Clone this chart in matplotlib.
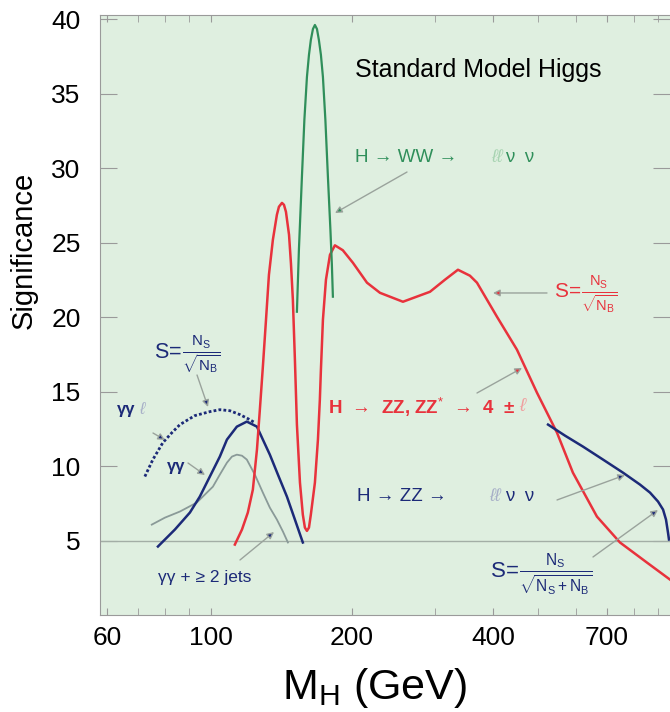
import matplotlib
matplotlib.use("Agg")
import matplotlib.pyplot as plt

plt.rcParams['font.family'] = ['Liberation Sans', 'DejaVu Sans']
plt.rcParams['mathtext.fontset'] = 'custom'
plt.rcParams['mathtext.rm'] = 'Liberation Sans'
plt.rcParams['mathtext.it'] = 'Liberation Sans:italic'
plt.rcParams['mathtext.default'] = 'rm'

# H -> ZZ, ZZ* -> 4 leptons (red)
zz4l_m = [112.5, 116.5, 119.9, 122.9, 125.4, 127.2, 129.1, 131.1, 133.0, 135.6,
          138.3, 139.7, 141.8, 143.2, 144.6, 146.8, 148.2, 149.6, 151.1, 152.6,
          154.9, 157.1, 158.7, 160.3, 161.9, 163.4, 166.7, 169.2, 170.8, 171.7,
          173.4, 176.0, 179.5, 183.9, 191.2, 200.9, 215.3, 229.5, 256.9, 293.4,
          315.8, 336.6, 357.0, 369.6, 407.8, 449.8, 496.3, 547.5, 592.1, 666.3,
          746.2, 852.0, 953.9]
zz4l_s = [4.73, 5.74, 6.88, 8.42, 11.11, 13.79, 16.68, 19.83, 22.85, 25.2,
          26.88, 27.42, 27.68, 27.55, 27.08, 25.54, 23.6, 21.17, 17.15, 12.79,
          8.89, 6.74, 5.87, 5.65, 5.87, 6.74, 8.89, 11.78, 14.46, 16.48,
          19.83, 22.52, 24.19, 24.83, 24.5, 23.66, 22.32, 21.64, 21.04, 21.71,
          22.52, 23.19, 22.79, 22.32, 20.03, 17.82, 14.93, 12.25, 9.56, 6.61,
          4.87, 3.52, 2.38]

# H -> WW -> l l nu nu (green)
ww_m = [152.6, 154.1, 156.4, 158.3, 160.3, 161.9, 163.4, 165.1, 166.7, 168.4,
        170.0, 171.7, 173.4, 175.5, 177.7, 179.9, 181.2, 182.1]
ww_s = [20.37, 24.53, 29.43, 33.26, 36.14, 37.62, 38.62, 39.36, 39.63, 39.36,
        38.62, 37.62, 36.14, 33.26, 29.43, 25.87, 23.52, 21.38]

# H -> ZZ -> l l nu nu (dark blue)
zzllvv_m = [524.0, 569.4, 622.2, 686.4, 757.3, 823.2, 864.8, 899.5, 922.0, 935.4,
            944.6, 949.2]
zzllvv_s = [12.79, 12.05, 11.31, 10.44, 9.56, 8.76, 8.22, 7.62, 7.08, 6.41,
            5.54, 5.07]

# gamma gamma l (dotted)
ggl_m = [72.3, 75.2, 79.0, 82.6, 85.9, 92.4, 99.5, 104.5, 109.8, 115.3, 119.9, 124.1]
ggl_s = [9.30, 10.44, 11.58, 12.25, 12.79, 13.39, 13.66, 13.79, 13.72, 13.46, 13.19, 12.92]

# gamma gamma
gg_m = [77.1, 83.8, 90.2, 94.7, 99.5, 104.5, 108.2, 113.6, 119.3, 125.4, 129.1,
        133.6, 139.0, 145.3, 151.1, 157.1]
gg_s = [4.60, 5.74, 6.88, 7.95, 9.30, 10.64, 11.78, 12.65, 12.99, 12.65, 11.78,
        10.77, 9.43, 7.95, 6.41, 4.87]

# gamma gamma + >= 2 jets
ggjj_m = [74.8, 79.8, 85.9, 93.3, 101.0, 104.5, 108.2, 110.9, 113.6, 116.5, 119.3,
          124.1, 129.1, 133.6, 138.3, 142.5, 146.0]
ggjj_s = [6.07, 6.54, 6.95, 7.55, 8.62, 9.43, 10.23, 10.64, 10.77, 10.70, 10.44,
          9.43, 8.22, 7.21, 6.41, 5.60, 4.87]

xticks = [60, 100, 200, 400, 700]
yticks = [5, 10, 15, 20, 25, 30, 35, 40]

red = '#e8323c'
green = '#2f8f5a'
navy = '#1c2a78'
grey = '#8a9a98'

fig = plt.figure(figsize=(6.7, 7.12), dpi=100)
ax = fig.add_axes([100 / 670, 1 - 615 / 712, 570 / 670, 600 / 712])
ax.set_facecolor('#dfefe0')

ax.axhline(5, color='#a3aea6', lw=1)
ax.plot(ggl_m, ggl_s, color=navy, lw=2, ls=(0, (1, 0.8)))
ax.plot(ggjj_m, ggjj_s, color=grey, lw=1.3)
ax.plot(gg_m, gg_s, color=navy, lw=1.8)
ax.plot(zz4l_m, zz4l_s, color=red, lw=1.8)
ax.plot(ww_m, ww_s, color=green, lw=1.6)
ax.plot(zzllvv_m, zzllvv_s, color=navy, lw=1.8)

ax.set_xscale('log')
ax.set_xlim(58, 954)
ax.set_ylim(0, 40.3)
ax.set_xticks(xticks)
ax.set_xticklabels([str(t) for t in xticks])
ax.set_xticks(list(range(60, 100, 10)) + list(range(100, 1000, 100)), minor=True)
ax.xaxis.set_minor_formatter(matplotlib.ticker.NullFormatter())
ax.set_yticks(yticks)

for s in ['left', 'bottom', 'top']:
    ax.spines[s].set_color('#9a9a9a')
ax.spines['right'].set_visible(False)
ax.tick_params(axis='y', direction='in', length=12, color='#9a9a9a',
               labelsize=19, pad=14, right=True)
ax.tick_params(axis='x', which='both', direction='in', length=5, color='#9a9a9a',
               labelsize=19, pad=8, top=True)

ax.set_ylabel('Significance', fontsize=21)
ax.yaxis.set_label_coords(-0.11, 0.608)
ax.set_xlabel(r'M$_\mathrm{H}$ (GeV)', fontsize=31)
ax.xaxis.set_label_coords(0.482, -0.085)

T = ax.transAxes
ax.text(0.447, 0.908, 'Standard Model Higgs', fontsize=18, transform=T,
        ha='left', va='center')

# WW label
ax.text(0.447, 0.763, 'H → WW →', fontsize=13.5, color=green, transform=T, va='center')
ax.text(0.686, 0.763, 'ℓℓ', fontsize=13, color='#a8d4b2', style='italic',
        transform=T, va='center')
ax.text(0.71, 0.763, 'ν  ν', fontsize=13.5, color=green, transform=T, va='center')

# ZZ 4l label
ax.text(0.40, 0.3467, r'H  →  ZZ, ZZ$^{*}$  →  4  ±', fontsize=13.5, color=red,
        transform=T, va='center', fontweight='bold')
ax.text(0.735, 0.3467, 'ℓ', fontsize=13.5, color='#f0a0a0', style='italic',
        transform=T, va='center')

# ZZ llvv label
ax.text(0.4509, 0.1967, 'H → ZZ →', fontsize=13.5, color=navy, transform=T, va='center')
ax.text(0.683, 0.1967, 'ℓℓ', fontsize=13, color='#a8b0c8', style='italic',
        transform=T, va='center')
ax.text(0.71, 0.1967, 'ν  ν', fontsize=13.5, color=navy, transform=T, va='center')

# significance definitions
ax.text(0.796, 0.5333, r'$S\!=\!\frac{N_S}{\sqrt{N_B}}$', fontsize=15, color=red,
        transform=T, va='center')
ax.text(0.094, 0.4333, r'$S\!=\!\frac{N_S}{\sqrt{N_B}}$', fontsize=15.5, color=navy,
        transform=T, va='center')
ax.text(0.684, 0.0667, r'$S\!=\!\frac{N_S}{\sqrt{N_S+N_B}}$', fontsize=16,
        color=navy, transform=T, va='center')

# diphoton labels
ax.text(0.030, 0.3417, 'γγ', fontsize=12, color=navy, transform=T, va='center',
        fontweight='bold')
ax.text(0.069, 0.3417, 'ℓ', fontsize=12, color='#a8b0c8', style='italic',
        transform=T, va='center')
ax.text(0.1175, 0.2483, 'γγ', fontsize=12, color=navy, transform=T, va='center',
        fontweight='bold')
ax.text(0.1018, 0.0617, 'γγ + ≥ 2 jets', fontsize=12.5, color=navy, transform=T,
        va='center')


def arrow(x0, y0, x1, y1, head):
    ax.annotate('', xy=(x1, y1), xytext=(x0, y0), xycoords=T, textcoords=T,
                arrowprops=dict(arrowstyle='-|>', ec='#9aa39c', fc=head,
                                lw=1, mutation_scale=10, shrinkA=0, shrinkB=0))


arrow(0.5386, 0.7383, 0.4123, 0.670, green)
arrow(0.7842, 0.5367, 0.6895, 0.5367, red)
arrow(0.6614, 0.370, 0.7404, 0.4117, red)
arrow(0.8018, 0.1917, 0.9211, 0.2333, navy)
arrow(0.8649, 0.0967, 0.9789, 0.175, navy)
arrow(0.1702, 0.400, 0.1895, 0.3467, navy)
arrow(0.093, 0.3033, 0.114, 0.2917, navy)
arrow(0.1544, 0.2533, 0.1842, 0.2333, navy)
arrow(0.2456, 0.0917, 0.3053, 0.1383, navy)

fig.savefig('out.png', dpi=100)
